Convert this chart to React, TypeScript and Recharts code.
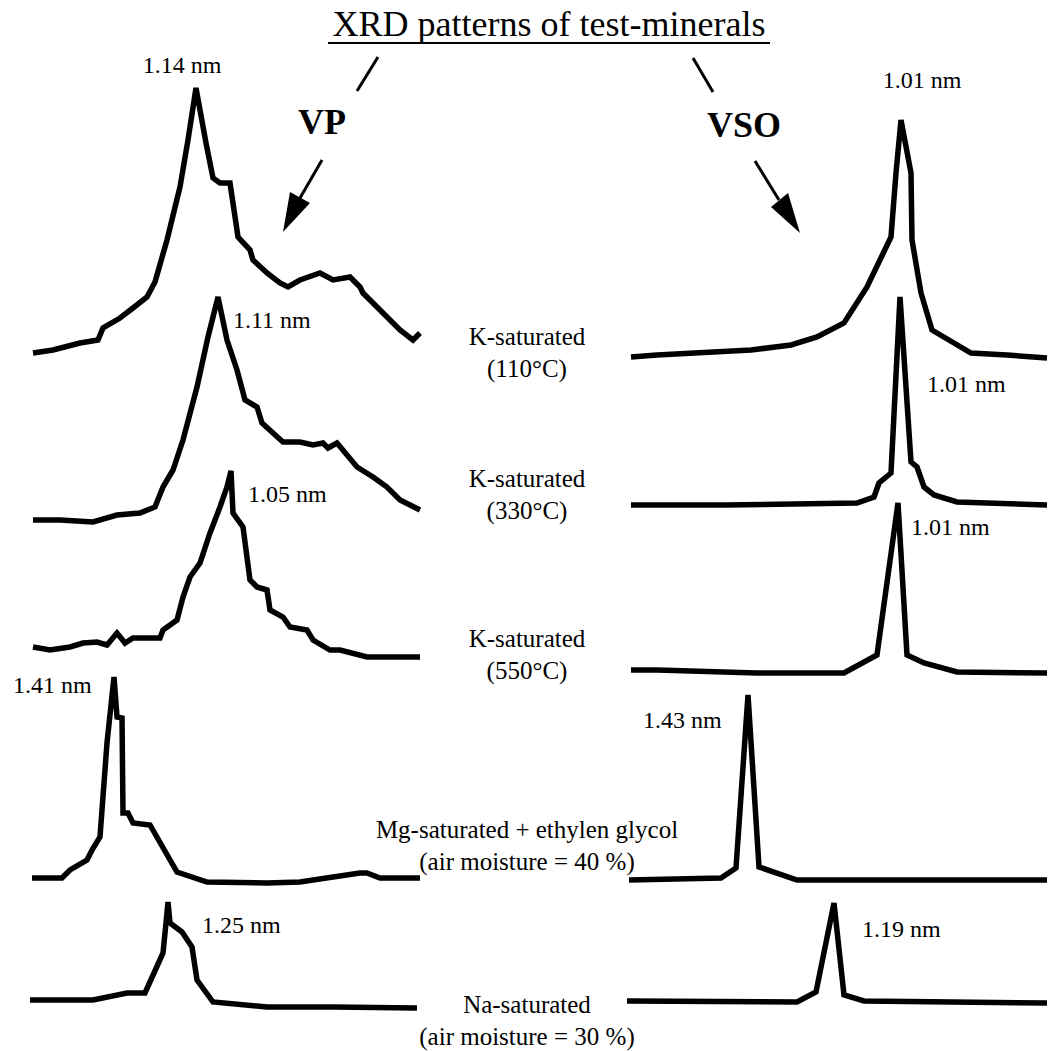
import React from 'react';
import { LineChart, Line, XAxis, YAxis } from 'recharts';

// ---- data: scan step (arbitrary channel) and relative intensity ----
// VP (left column)
const vpK110Step = [3, 23, 50, 68, 73, 90, 103, 117, 125, 137, 150, 158, 166, 176, 183, 190, 200, 208, 220, 223, 237, 250, 258, 270, 290, 303, 320, 330, 333, 353, 370, 383, 390];
const vpK110Int = [7, 10, 17, 20, 32, 42, 52, 63, 78, 120, 173, 220, 272, 217, 182, 177, 177, 123, 110, 100, 87, 77, 73, 80, 87, 80, 83, 73, 67, 47, 30, 20, 27];

const vpK330Step = [3, 30, 63, 87, 110, 125, 133, 143, 153, 167, 178, 188, 197, 207, 215, 227, 232, 243, 253, 270, 283, 293, 298, 307, 327, 343, 357, 370, 390];
const vpK330Int = [10, 10, 8, 15, 17, 23, 43, 60, 90, 143, 193, 233, 190, 160, 130, 123, 107, 97, 88, 88, 85, 87, 82, 87, 63, 53, 43, 30, 20];

const vpK550Step = [3, 20, 40, 53, 67, 77, 87, 95, 103, 130, 133, 147, 153, 160, 170, 180, 190, 197, 201, 203, 213, 220, 227, 237, 240, 253, 260, 277, 283, 300, 310, 337, 357, 390];
const vpK550Int = [18, 15, 18, 22, 23, 20, 32, 22, 27, 27, 35, 45, 68, 88, 102, 132, 158, 178, 194, 152, 138, 85, 78, 75, 55, 48, 38, 35, 25, 15, 15, 8, 8, 8];

const vpMgStep = [2, 32, 40, 57, 62, 70, 77, 84, 87, 92, 93, 98, 103, 120, 147, 177, 237, 270, 303, 330, 337, 350, 390];
const vpMgInt = [12, 12, 20, 30, 40, 53, 147, 213, 173, 172, 77, 77, 67, 65, 18, 8, 7, 8, 13, 17, 17, 12, 12];

const vpNaStep = [0, 63, 97, 115, 133, 136, 138, 140, 152, 162, 167, 183, 237, 303, 387];
const vpNaInt = [15, 15, 22, 22, 62, 92, 113, 92, 83, 68, 35, 13, 8, 8, 7];

// VSO (right column)
const vsoK110Step = [5, 31, 125, 165, 191, 218, 241, 265, 270, 275, 285, 286, 295, 306, 345, 381, 421];
const vsoK110Int = [8, 10, 15, 20, 28, 42, 78, 128, 192, 245, 192, 125, 72, 35, 12, 10, 7];

const vsoK330Step = [5, 98, 231, 248, 253, 265, 274, 285, 291, 298, 308, 331, 421];
const vsoK330Int = [7, 7, 9, 15, 29, 39, 215, 50, 45, 25, 17, 10, 7];

const vsoK550Step = [5, 31, 131, 218, 251, 272, 281, 298, 331, 421];
const vsoK550Int = [10, 10, 7, 7, 25, 177, 25, 17, 8, 7];

const vsoMgStep = [3, 95, 110, 122, 133, 171, 421];
const vsoMgInt = [7, 9, 19, 192, 20, 7, 7];

const vsoNaStep = [1, 171, 190, 208, 218, 238, 421];
const vsoNaInt = [9, 8, 18, 107, 15, 9, 7];

// treatment labels
const treatmentLines = [
  ['K-saturated', '(110°C)'],
  ['K-saturated', '(330°C)'],
  ['K-saturated', '(550°C)'],
  ['Mg-saturated + ethylen glycol', '(air moisture = 40 %)'],
  ['Na-saturated', '(air moisture = 30 %)'],
];
const vpPeakLabels = ['1.14 nm', '1.11 nm', '1.05 nm', '1.41 nm', '1.25 nm'];
const vsoPeakLabels = ['1.01 nm', '1.01 nm', '1.01 nm', '1.43 nm', '1.19 nm'];

// ---- layout ----
const LEFT_X = 30;
const LEFT_W = 392;
const RIGHT_X = 626;
const RIGHT_W = 422;

const vpBoxes = [
  { top: 80, height: 280 },
  { top: 290, height: 240 },
  { top: 465, height: 200 },
  { top: 670, height: 220 },
  { top: 895, height: 120 },
];
const vsoBoxes = [
  { top: 110, height: 255 },
  { top: 290, height: 222 },
  { top: 495, height: 185 },
  { top: 685, height: 202 },
  { top: 895, height: 115 },
];

const vpSeries = [
  [vpK110Step, vpK110Int],
  [vpK330Step, vpK330Int],
  [vpK550Step, vpK550Int],
  [vpMgStep, vpMgInt],
  [vpNaStep, vpNaInt],
];
const vsoSeries = [
  [vsoK110Step, vsoK110Int],
  [vsoK330Step, vsoK330Int],
  [vsoK550Step, vsoK550Int],
  [vsoMgStep, vsoMgInt],
  [vsoNaStep, vsoNaInt],
];

const vpLabelPos = [
  { x: 182, y: 73, anchor: 'middle' },
  { x: 233, y: 328, anchor: 'start' },
  { x: 248, y: 502, anchor: 'start' },
  { x: 13, y: 693, anchor: 'start' },
  { x: 202, y: 933, anchor: 'start' },
];
const vsoLabelPos = [
  { x: 922, y: 88, anchor: 'middle' },
  { x: 927, y: 392, anchor: 'start' },
  { x: 911, y: 535, anchor: 'start' },
  { x: 643, y: 728, anchor: 'start' },
  { x: 862, y: 937, anchor: 'start' },
];
const treatmentY = [345, 487, 647, 838, 1013];

const FONT = "'Liberation Serif', 'Times New Roman', serif";

function Trace({ steps, values, left, top, width, height }: any) {
  const data = steps.map((s: number, i: number) => ({ s, v: values[i] }));
  return (
    <div style={{ position: 'absolute', left, top, width, height }}>
      <LineChart width={width} height={height} data={data} margin={{ top: 0, right: 0, bottom: 0, left: 0 }} style={{ overflow: 'visible' }}>
        <XAxis dataKey="s" type="number" domain={[0, width]} hide />
        <YAxis type="number" domain={[0, height]} hide />
        <Line
          dataKey="v"
          type="linear"
          stroke="#000"
          strokeWidth={5.5}
          dot={false}
          activeDot={false}
          isAnimationActive={false}
          strokeLinejoin="miter"
        />
      </LineChart>
    </div>
  );
}

export default function App() {
  return (
    <div style={{ position: 'absolute', left: 0, top: 0, width: 1048, height: 1051, background: '#fff', overflow: 'hidden' }}>
      {vpSeries.map(([st, iv], i) => (
        <Trace key={'vp' + i} steps={st} values={iv} left={LEFT_X} top={vpBoxes[i].top} width={LEFT_W} height={vpBoxes[i].height} />
      ))}
      {vsoSeries.map(([st, iv], i) => (
        <Trace key={'vso' + i} steps={st} values={iv} left={RIGHT_X} top={vsoBoxes[i].top} width={RIGHT_W} height={vsoBoxes[i].height} />
      ))}
      <svg width={1048} height={1051} style={{ position: 'absolute', left: 0, top: 0, pointerEvents: 'none' }}>
        <g fontFamily={FONT} fill="#000">
          <text x={549} y={36} fontSize={36} textAnchor="middle">XRD patterns of test-minerals</text>
          <line x1={328} y1={43} x2={770} y2={43} stroke="#000" strokeWidth={2} />
          <line x1={378} y1={57} x2={357} y2={91} stroke="#000" strokeWidth={3} />
          <line x1={693} y1={58} x2={713} y2={92} stroke="#000" strokeWidth={3} />
          <text x={322} y={134} fontSize={36} fontWeight="bold" textAnchor="middle">VP</text>
          <text x={744} y={137} fontSize={36} fontWeight="bold" textAnchor="middle">VSO</text>
          <line x1={322} y1={160} x2={300} y2={198} stroke="#000" strokeWidth={3} />
          <polygon points="283,232 290,192 310,203" fill="#000" />
          <line x1={755} y1={161} x2={779} y2={200} stroke="#000" strokeWidth={3} />
          <polygon points="800,233 771,207 788,193" fill="#000" />
          {vpPeakLabels.map((t, i) => (
            <text key={'vpl' + i} x={vpLabelPos[i].x} y={vpLabelPos[i].y} fontSize={24} textAnchor={vpLabelPos[i].anchor as any}>{t}</text>
          ))}
          {vsoPeakLabels.map((t, i) => (
            <text key={'vsol' + i} x={vsoLabelPos[i].x} y={vsoLabelPos[i].y} fontSize={24} textAnchor={vsoLabelPos[i].anchor as any}>{t}</text>
          ))}
          {treatmentLines.map((lines, i) => (
            <text key={'tr' + i} fontSize={25} textAnchor="middle">
              <tspan x={527} y={treatmentY[i]}>{lines[0]}</tspan>
              <tspan x={527} y={treatmentY[i] + 32}>{lines[1]}</tspan>
            </text>
          ))}
        </g>
      </svg>
    </div>
  );
}
